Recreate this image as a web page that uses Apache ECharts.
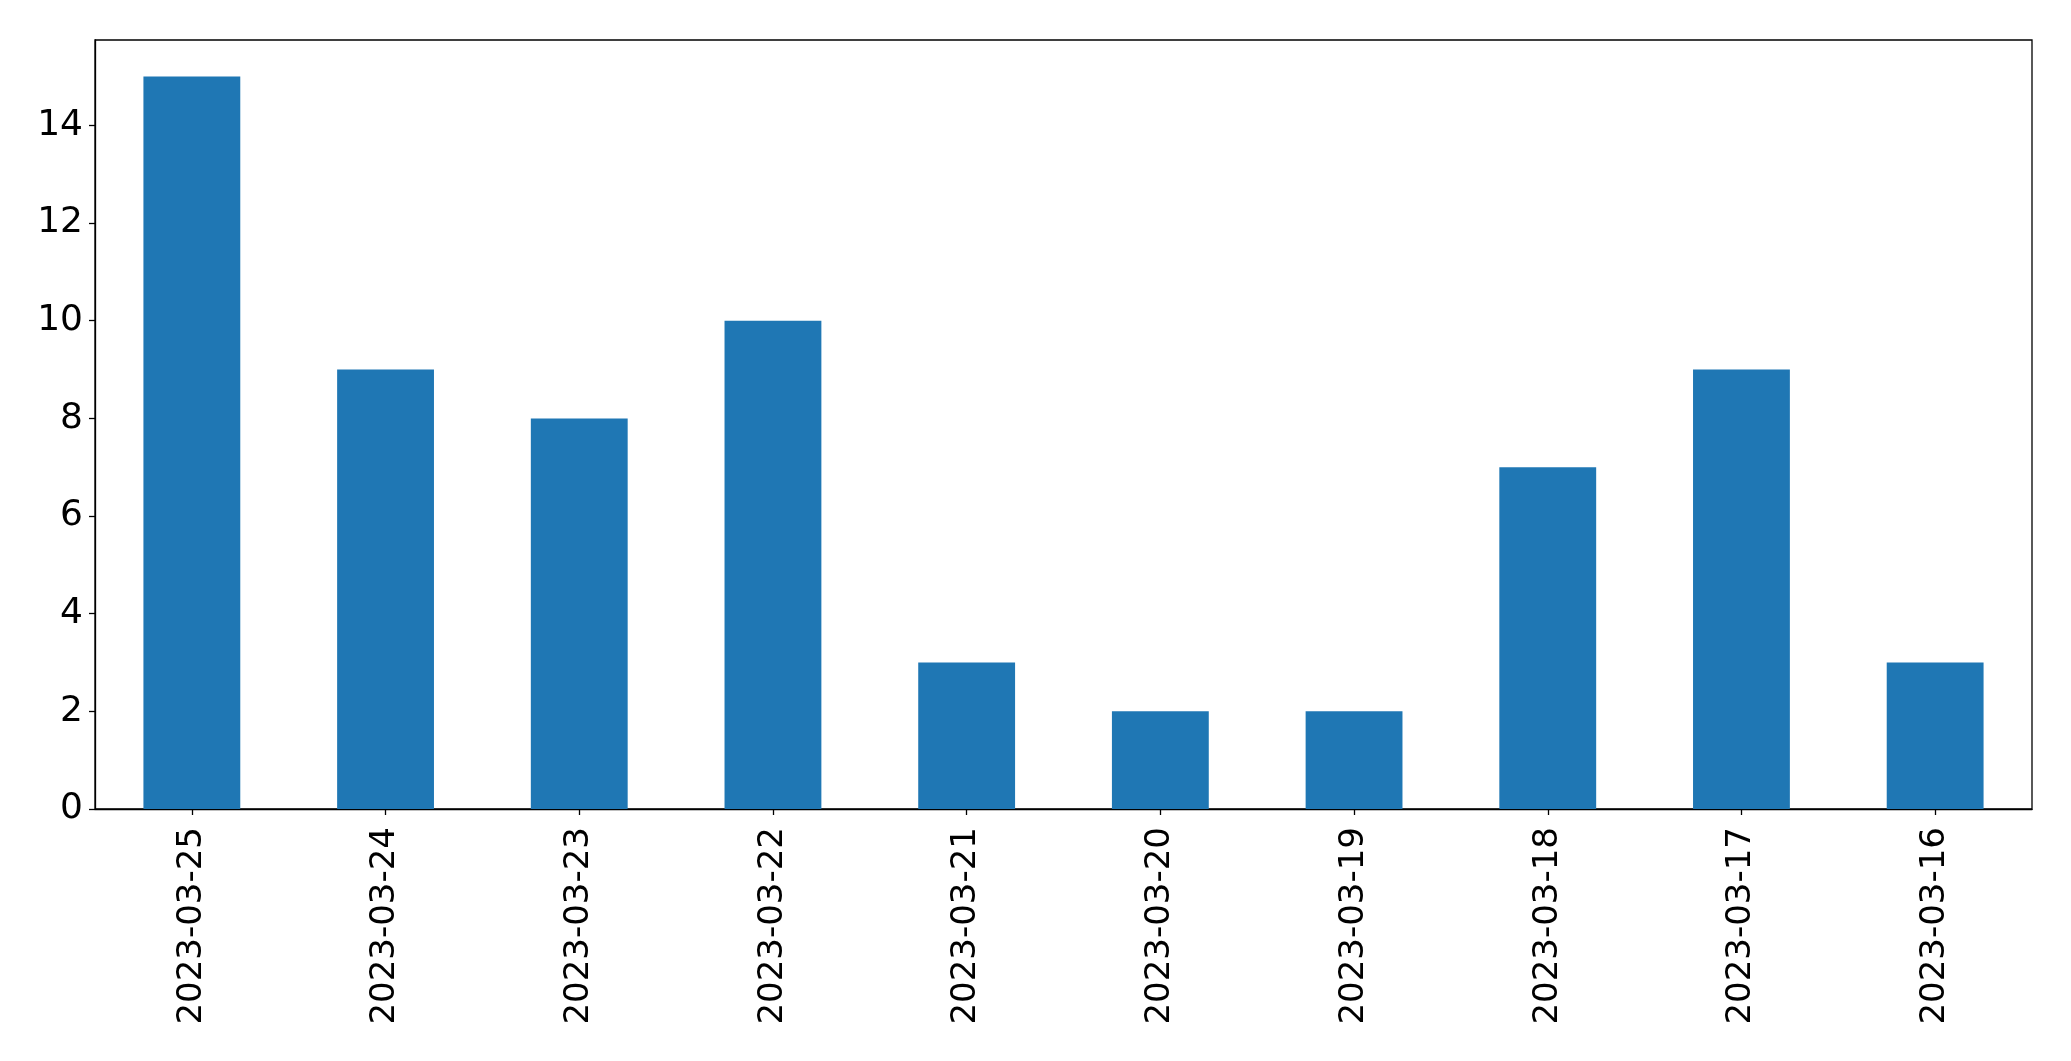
<!DOCTYPE html>
<html>
<head>
<meta charset="utf-8">
<script src="https://cdn.jsdelivr.net/npm/echarts@6/dist/echarts.min.js"></script>
<style>
  html, body { margin: 0; padding: 0; background: #fff; }
  #chart { width: 2071px; height: 1061px; }
</style>
</head>
<body>
<div id="chart"></div>
<script>
const dates = ['2023-03-25', '2023-03-24', '2023-03-23', '2023-03-22', '2023-03-21',
               '2023-03-20', '2023-03-19', '2023-03-18', '2023-03-17', '2023-03-16']
const counts = [15, 9, 8, 10, 3, 2, 2, 7, 9, 3]
const yTicks = [0, 2, 4, 6, 8, 10, 12, 14]

const chart = echarts.init(document.getElementById('chart'), null, { renderer: 'canvas' })
const font = 'DejaVu Sans'

chart.setOption({
  backgroundColor: '#ffffff',
  animation: false,
  grid: {
    left: 95,
    top: 40,
    width: 1937,
    height: 769,
    show: true,
    borderColor: '#000',
    borderWidth: 1.3,
    backgroundColor: 'transparent'
  },
  xAxis: {
    type: 'category',
    data: dates,
    boundaryGap: true,
    axisLine: { show: true, lineStyle: { color: '#000', width: 1.3 } },
    axisTick: { show: true, alignWithLabel: true, length: 6, lineStyle: { color: '#000', width: 1.3 } },
    axisLabel: { rotate: 90, color: '#000', fontFamily: font, fontSize: 34, margin: 18, interval: 0 },
    splitLine: { show: false }
  },
  yAxis: {
    type: 'value',
    min: 0,
    max: 15.75,
    axisLine: { show: true, lineStyle: { color: '#000', width: 1.3 } },
    axisTick: { show: true, length: 6, customValues: yTicks, lineStyle: { color: '#000', width: 1.3 } },
    axisLabel: { color: '#000', fontFamily: font, fontSize: 36, margin: 12, customValues: yTicks },
    splitLine: { show: false }
  },
  series: [{
    type: 'bar',
    data: counts,
    barWidth: '50%',
    itemStyle: { color: '#1f77b4' }
  }]
})
</script>
</body>
</html>
